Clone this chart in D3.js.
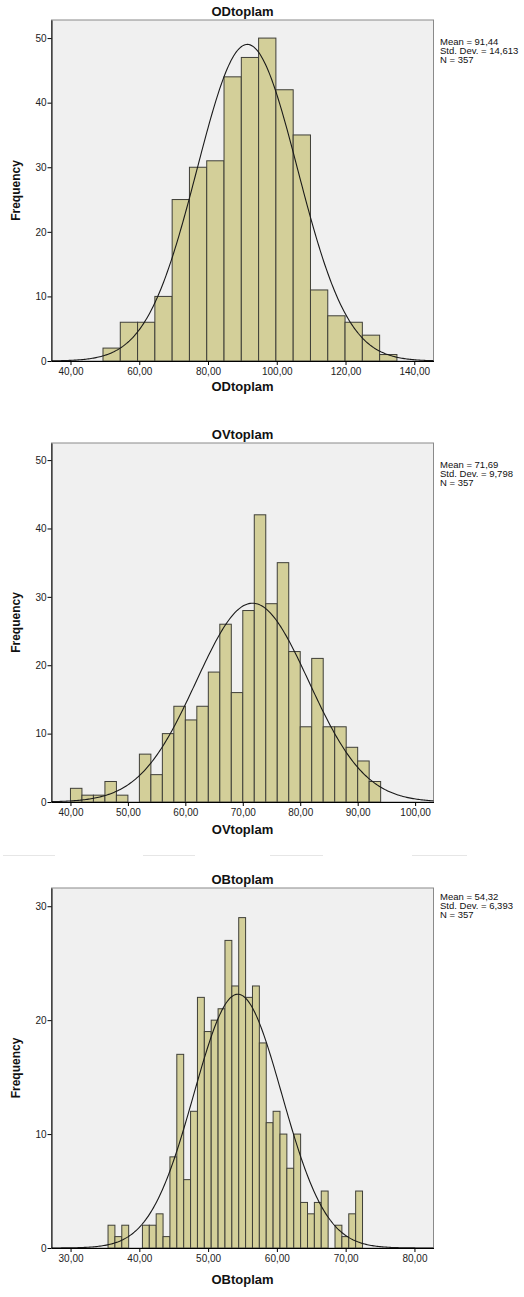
<!DOCTYPE html>
<html>
<head>
<meta charset="utf-8">
<script src="https://cdn.jsdelivr.net/npm/d3@7"></script>
<style>
  body { margin: 0; background: #fff; }
  svg { display: block; font-family: "Liberation Sans", Arial, sans-serif; }
</style>
</head>
<body>
<svg id="chart" width="524" height="1297"></svg>
<script>
// ODtoplam
const odCounts = [2, 6, 6, 10, 25, 30, 31, 44, 47, 50, 42, 35, 11, 7, 6, 4, 1];
const odBin = [49.45, 5.03];           // first bin start, bin width
const odXTicks = [40, 60, 80, 100, 120, 140];
const odYTicks = [0, 10, 20, 30, 40, 50];
const odFit = [91.44, 14.613, 357];    // mean, sd, n
const odStats = ["Mean = 91,44", "Std. Dev. = 14,613", "N = 357"];

// OVtoplam
const ovCounts = [2, 1, 1, 3, 1, 0, 7, 4, 10, 14, 12, 14, 19, 26, 16, 28, 42, 29, 35, 22, 11, 21, 11, 11, 8, 6, 3];
const ovBin = [40, 2];
const ovXTicks = [40, 50, 60, 70, 80, 90, 100];
const ovYTicks = [0, 10, 20, 30, 40, 50];
const ovFit = [71.69, 9.798, 357];
const ovStats = ["Mean = 71,69", "Std. Dev. = 9,798", "N = 357"];

// OBtoplam
const obCounts = [2, 1, 2, 0, 0, 2, 2, 3, 1, 8, 17, 6, 12, 22, 19, 20, 21, 27, 23, 29, 22, 23, 18, 11, 12, 10, 7, 10, 4, 3, 4, 5, 0, 2, 1, 3, 5];
const obBin = [35.45, 1];
const obXTicks = [30, 40, 50, 60, 70, 80];
const obYTicks = [0, 10, 20, 30];
const obFit = [54.32, 6.393, 357];
const obStats = ["Mean = 54,32", "Std. Dev. = 6,393", "N = 357"];

const fmt = d3.formatLocale({ decimal: ",", thousands: ".", grouping: [3], currency: ["", ""] }).format(".2f");
const svg = d3.select("#chart");

const panels = [
  { name: "ODtoplam", counts: odCounts, bin: odBin, xTicks: odXTicks, yTicks: odYTicks, fit: odFit, stats: odStats,
    xDomain: [34.47, 145.6], yMax: 52.8, top: 20, bottom: 361, statsY: 42, labelDy: 30 },
  { name: "OVtoplam", counts: ovCounts, bin: ovBin, xTicks: ovXTicks, yTicks: ovYTicks, fit: ovFit, stats: ovStats,
    xDomain: [36.7, 103.2], yMax: 52.5, top: 443, bottom: 802, statsY: 465, labelDy: 32 },
  { name: "OBtoplam", counts: obCounts, bin: obBin, xTicks: obXTicks, yTicks: obYTicks, fit: obFit, stats: obStats,
    xDomain: [27.23, 82.77], yMax: 31.6, top: 888, bottom: 1248, statsY: 897, labelDy: 36 }
];

const left = 51.5, right = 433.5;

panels.forEach(p => {
  const g = svg.append("g");
  const x = d3.scaleLinear().domain(p.xDomain).range([left, right]);
  const y = d3.scaleLinear().domain([0, p.yMax]).range([p.bottom, p.top]);

  // plot background
  g.append("rect")
    .attr("x", left).attr("y", p.top)
    .attr("width", right - left).attr("height", p.bottom - p.top)
    .attr("fill", "#f0f0f0").attr("stroke", "#8a8a8a").attr("stroke-width", 1);

  // bars
  const bins = p.counts.map((c, i) => ({ x0: p.bin[0] + i * p.bin[1], x1: p.bin[0] + (i + 1) * p.bin[1], c }));
  g.selectAll("rect.bar")
    .data(bins.filter(d => d.c > 0))
    .enter().append("rect")
    .attr("class", "bar")
    .attr("x", d => x(d.x0))
    .attr("width", d => x(d.x1) - x(d.x0))
    .attr("y", d => y(d.c))
    .attr("height", d => y(0) - y(d.c))
    .attr("fill", "#d3cf99")
    .attr("stroke", "#3f3f38")
    .attr("stroke-width", 1);

  // normal curve
  const [mu, sd, n] = p.fit;
  const dens = v => n * p.bin[1] * Math.exp(-0.5 * ((v - mu) / sd) ** 2) / (sd * Math.sqrt(2 * Math.PI));
  const pts = d3.range(0, 301).map(i => p.xDomain[0] + (p.xDomain[1] - p.xDomain[0]) * i / 300);
  g.append("path")
    .datum(pts)
    .attr("fill", "none")
    .attr("stroke", "#1a1a1a")
    .attr("stroke-width", 1.1)
    .attr("d", d3.line().x(v => x(v)).y(v => y(dens(v))));

  // axes
  const xAxis = g.append("g")
    .attr("transform", `translate(0,${p.bottom})`)
    .call(d3.axisBottom(x).tickValues(p.xTicks).tickFormat(fmt).tickSizeInner(4).tickSizeOuter(0));
  const yAxis = g.append("g")
    .attr("transform", `translate(${left},0)`)
    .call(d3.axisLeft(y).tickValues(p.yTicks).tickSizeInner(4).tickSizeOuter(0));
  [xAxis, yAxis].forEach(a => {
    a.select(".domain").attr("stroke", "#000");
    a.selectAll(".tick line").attr("stroke", "#000");
    a.selectAll(".tick text")
      .attr("font-family", "Liberation Sans, Arial, sans-serif")
      .attr("font-size", 10).attr("fill", "#222");
  });
  xAxis.selectAll(".tick text").attr("dy", "0.71em").attr("y", 7);
  yAxis.selectAll(".tick text").attr("x", -5);

  // title and axis labels
  g.append("text")
    .attr("x", (left + right) / 2).attr("y", p.top - 4)
    .attr("text-anchor", "middle")
    .attr("font-size", 13).attr("font-weight", "bold").attr("fill", "#111")
    .text(p.name);
  g.append("text")
    .attr("x", (left + right) / 2).attr("y", p.bottom + p.labelDy)
    .attr("text-anchor", "middle")
    .attr("font-size", 13).attr("font-weight", "bold").attr("fill", "#111")
    .text(p.name);
  g.append("text")
    .attr("transform", `translate(20,${(p.top + p.bottom) / 2}) rotate(-90)`)
    .attr("text-anchor", "middle")
    .attr("font-size", 12).attr("font-weight", "bold").attr("fill", "#111")
    .text("Frequency");

  // stats box
  g.append("g").selectAll("text")
    .data(p.stats)
    .enter().append("text")
    .attr("x", 440)
    .attr("y", (d, i) => p.statsY + 3 + i * 9)
    .attr("font-size", 9.5).attr("fill", "#111")
    .text(d => d);
});

// faint separator between second and third panel
svg.append("g").selectAll("line")
  .data([[3, 55], [143, 195], [270, 323], [412, 467]])
  .enter().append("line")
  .attr("x1", d => d[0]).attr("x2", d => d[1])
  .attr("y1", 855.5).attr("y2", 855.5)
  .attr("stroke", "#e6e6e6").attr("stroke-width", 1);
</script>
</body>
</html>
